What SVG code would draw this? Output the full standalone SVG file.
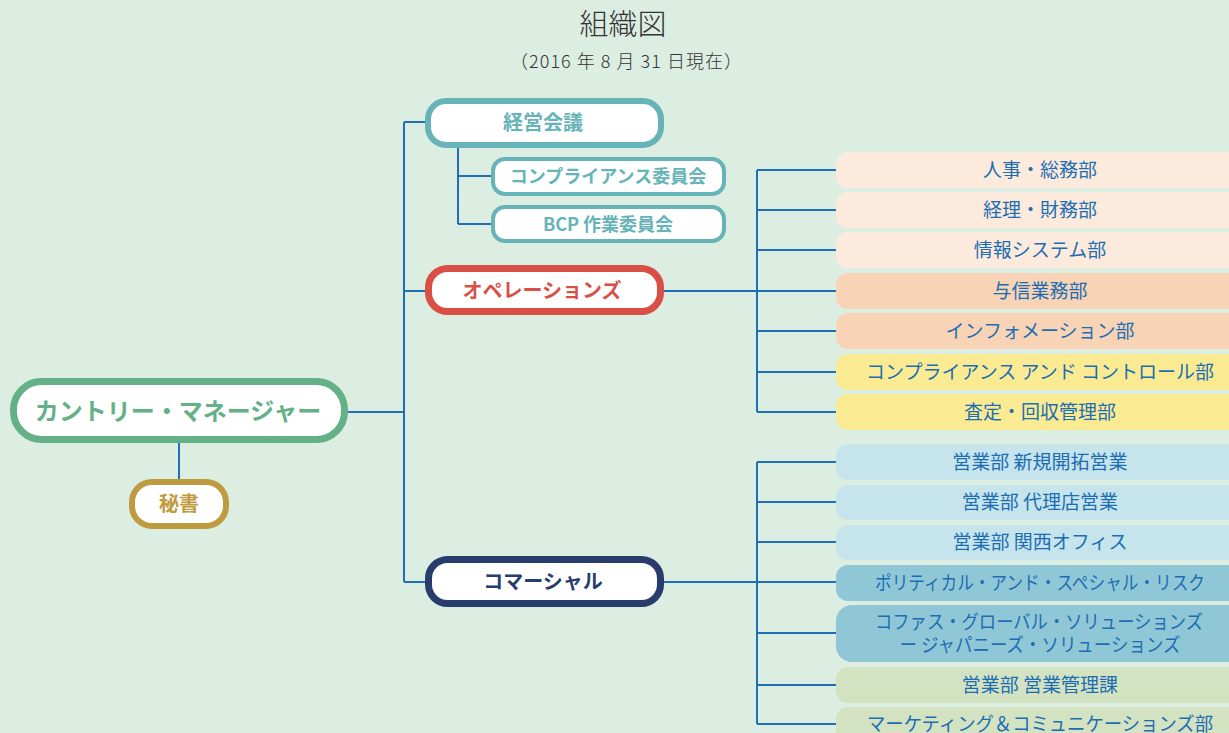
<svg xmlns="http://www.w3.org/2000/svg" width="1229" height="733" viewBox="0 0 1229 733">
<style>
text{font-family:"Noto Sans CJK JP","Noto Sans",sans-serif;text-anchor:middle}
.lines line{stroke:#1f6fb4;stroke-width:2;fill:none}
.nb{fill:#fff}
.tb{font-weight:bold;font-size:20px}
.dept text{fill:#1c6db3;font-size:19px}
.dept rect{stroke:none}
.p1{fill:#fcebdc}.p2{fill:#f8d3b5}.p3{fill:#faeb92}
.c1{fill:#c5e4ec}.c2{fill:#8fc7d6}.c3{fill:#d3e2c1}
</style>
<rect width="1229" height="733" fill="#dcede2"/>
<text x="623" y="35" font-size="29" fill="#333" font-weight="300">組織図</text>
<text x="626" y="68" font-size="18" fill="#333" font-weight="300" textLength="232" lengthAdjust="spacing">（2016 年 8 月 31 日現在）</text>
<g class="lines">
<line x1="348" y1="412" x2="404" y2="412"/>
<line x1="179" y1="443" x2="179" y2="479"/>
<line x1="404" y1="122" x2="404" y2="582"/>
<line x1="404" y1="122" x2="426" y2="122"/>
<line x1="404" y1="291" x2="426" y2="291"/>
<line x1="404" y1="582" x2="426" y2="582"/>
<line x1="458" y1="148" x2="458" y2="224"/>
<line x1="458" y1="176" x2="492" y2="176"/>
<line x1="458" y1="224" x2="492" y2="224"/>
<line x1="664" y1="291" x2="757" y2="291"/>
<line x1="757" y1="170" x2="757" y2="412"/>
<line x1="757" y1="170" x2="836" y2="170"/>
<line x1="757" y1="210" x2="836" y2="210"/>
<line x1="757" y1="250" x2="836" y2="250"/>
<line x1="757" y1="291" x2="836" y2="291"/>
<line x1="757" y1="331" x2="836" y2="331"/>
<line x1="757" y1="372" x2="836" y2="372"/>
<line x1="757" y1="412" x2="836" y2="412"/>
<line x1="664" y1="582" x2="757" y2="582"/>
<line x1="757" y1="462" x2="757" y2="724"/>
<line x1="757" y1="462" x2="836" y2="462"/>
<line x1="757" y1="502" x2="836" y2="502"/>
<line x1="757" y1="542" x2="836" y2="542"/>
<line x1="757" y1="582" x2="836" y2="582"/>
<line x1="757" y1="633" x2="836" y2="633"/>
<line x1="757" y1="685" x2="836" y2="685"/>
<line x1="757" y1="724" x2="836" y2="724"/>
</g>
<g id="country-manager">
<rect class="nb" x="13.5" y="381.5" width="331" height="58" rx="28" stroke="#64b087" stroke-width="7"/>
<text x="178" y="420" font-size="24" font-weight="bold" fill="#64b087">カントリー・マネージャー</text>
</g>
<g id="secretary">
<rect class="nb" x="132" y="482" width="94" height="44" rx="20" stroke="#bf9b40" stroke-width="6"/>
<text class="tb" x="179" y="511" fill="#bf9b40">秘書</text>
</g>
<g id="board">
<rect class="nb" x="428" y="101" width="233" height="44" rx="18" stroke="#66b3b8" stroke-width="6"/>
<text class="tb" x="543" y="130" fill="#66b3b8">経営会議</text>
</g>
<g id="compliance-committee">
<rect class="nb" x="493" y="159" width="231" height="35" rx="12" stroke="#66b3b8" stroke-width="4"/>
<text x="608" y="183" font-size="18" font-weight="bold" fill="#66b3b8">コンプライアンス委員会</text>
</g>
<g id="bcp-committee">
<rect class="nb" x="493" y="207" width="231" height="34" rx="12" stroke="#66b3b8" stroke-width="4"/>
<text x="608" y="231" font-size="18" font-weight="bold" fill="#66b3b8">BCP 作業委員会</text>
</g>
<g id="operations">
<rect class="nb" x="428.5" y="268.5" width="232" height="43" rx="19" stroke="#d94f45" stroke-width="7"/>
<text class="tb" x="542" y="298" fill="#d94f45">オペレーションズ</text>
</g>
<g id="commercial">
<rect class="nb" x="428.5" y="559.5" width="232" height="44" rx="19" stroke="#283d6e" stroke-width="7"/>
<text class="tb" x="543" y="589" fill="#283d6e">コマーシャル</text>
</g>
<g class="dept">
<g id="d1"><rect class="p1" x="836" y="152" width="410" height="36" rx="12"/><text x="1040" y="177">人事・総務部</text></g>
<g id="d2"><rect class="p1" x="836" y="192" width="410" height="36" rx="12"/><text x="1040" y="217">経理・財務部</text></g>
<g id="d3"><rect class="p1" x="836" y="232" width="410" height="36" rx="12"/><text x="1040" y="257">情報システム部</text></g>
<g id="d4"><rect class="p2" x="836" y="273" width="410" height="36" rx="12"/><text x="1040" y="298">与信業務部</text></g>
<g id="d5"><rect class="p2" x="836" y="313" width="410" height="36" rx="12"/><text x="1040" y="338">インフォメーション部</text></g>
<g id="d6"><rect class="p3" x="836" y="354" width="410" height="36" rx="12"/><text x="1040" y="379">コンプライアンス アンド コントロール部</text></g>
<g id="d7"><rect class="p3" x="836" y="394" width="410" height="36" rx="12"/><text x="1040" y="419">査定・回収管理部</text></g>
<g id="s1"><rect class="c1" x="836" y="444" width="410" height="36" rx="12"/><text x="1040" y="469">営業部 新規開拓営業</text></g>
<g id="s2"><rect class="c1" x="836" y="485" width="410" height="35" rx="12"/><text x="1040" y="509">営業部 代理店営業</text></g>
<g id="s3"><rect class="c1" x="836" y="525" width="410" height="35" rx="12"/><text x="1040" y="549">営業部 関西オフィス</text></g>
<g id="s4"><rect class="c2" x="836" y="565" width="410" height="36" rx="12"/><text x="1040" y="590" textLength="330" lengthAdjust="spacingAndGlyphs">ポリティカル・アンド・スペシャル・リスク</text></g>
<g id="s5"><rect class="c2" x="836" y="605" width="410" height="57" rx="16"/><text x="1039" y="629" textLength="328" lengthAdjust="spacingAndGlyphs">コファス・グローバル・ソリューションズ</text><text x="1040" y="652" textLength="281" lengthAdjust="spacingAndGlyphs">ー ジャパニーズ・ソリューションズ</text></g>
<g id="s6"><rect class="c3" x="836" y="667" width="410" height="36" rx="12"/><text x="1040" y="692">営業部 営業管理課</text></g>
<g id="s7"><rect class="c3" x="836" y="707" width="410" height="36" rx="12"/><text x="1040" y="731" textLength="346" lengthAdjust="spacingAndGlyphs">マーケティング＆コミュニケーションズ部</text></g>
</g>
</svg>
